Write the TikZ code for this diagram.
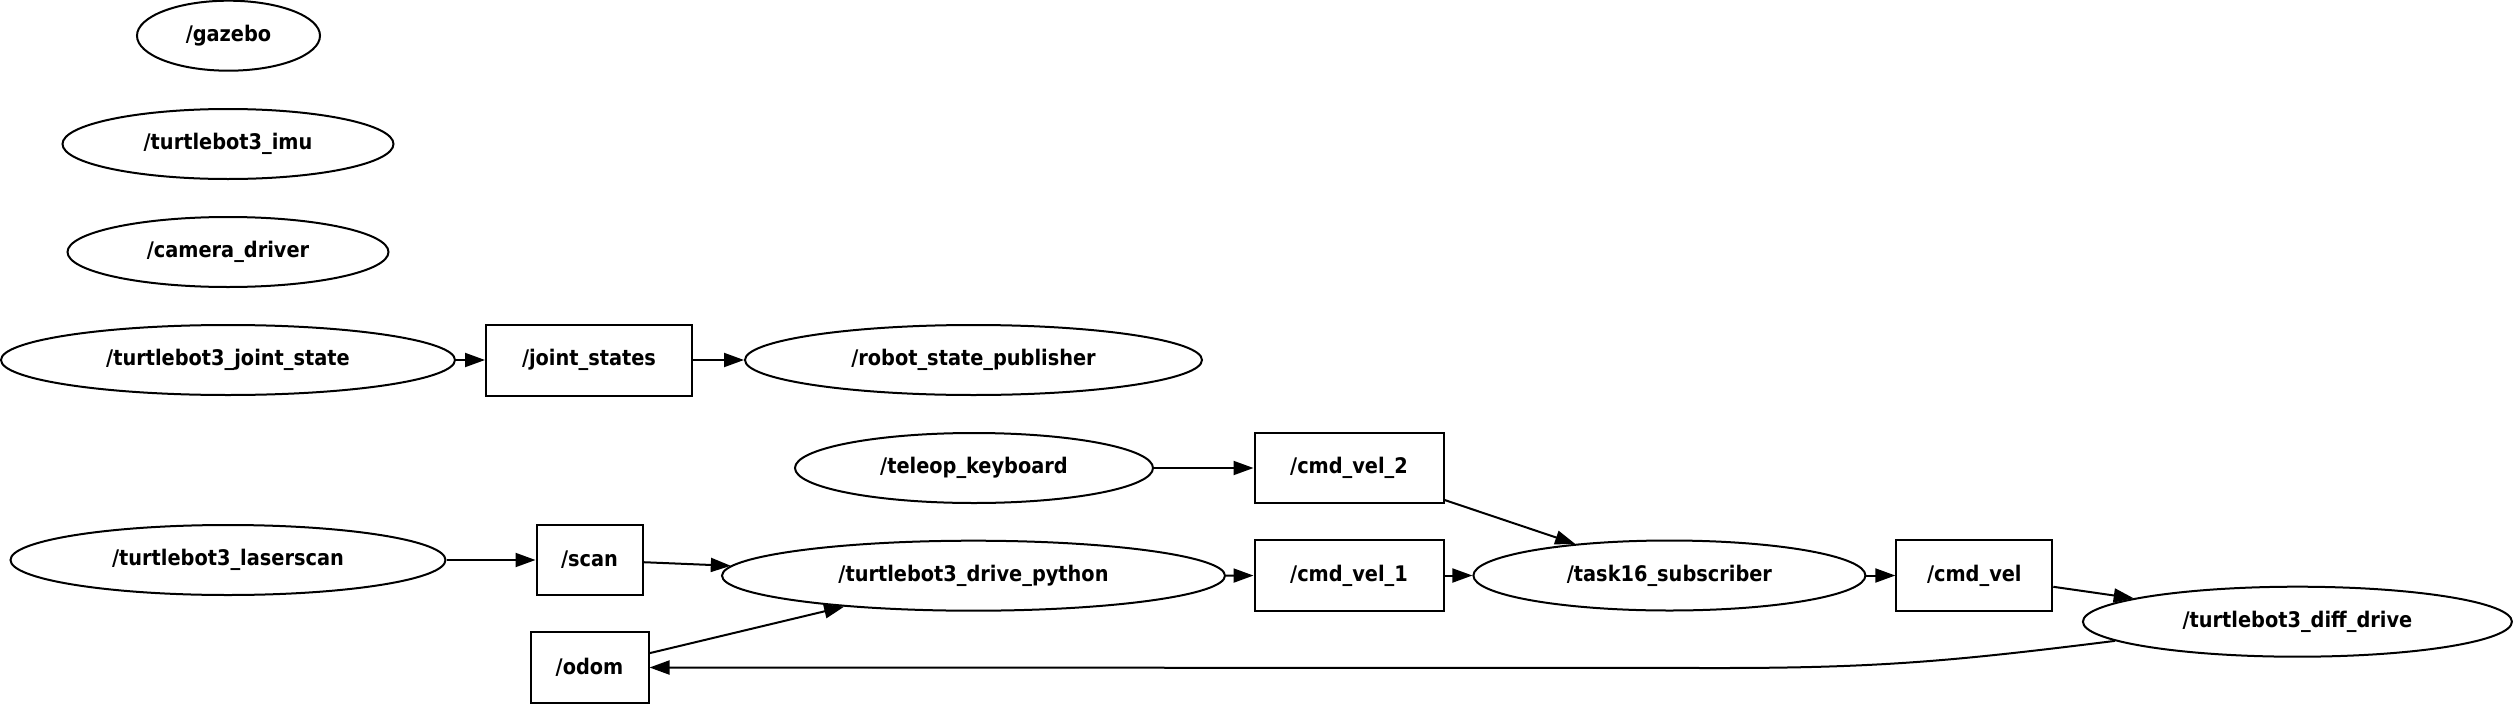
\documentclass[tikz,border=0pt]{standalone}
\usepackage{fontspec}
\IfFontExistsTF{DejaVu Sans Condensed}{\setmainfont{DejaVu Sans Condensed}}{\setmainfont{DejaVu Sans}[FakeStretch=0.88]}
\usetikzlibrary{shapes.geometric,arrows.meta}
\begin{document}
\begin{tikzpicture}[x=1pt,y=-1pt,
  every node/.style={font=\fontsize{21.5}{25}\selectfont\bfseries, inner sep=0pt},
  nodeell/.style={draw, ellipse, line width=2pt, minimum height=70pt},
  topicbox/.style={draw, rectangle, line width=2pt, minimum height=71pt},
  conn/.style={line width=2pt, -{Triangle[length=20pt,width=14pt]}}
]
\useasboundingbox (0,0) rectangle (2515,704);
% nodes (ellipses)
\node[nodeell, minimum width=183pt] (gazebo) at (228.5,35.7) {/gazebo};
\node[nodeell, minimum width=331pt] (imu) at (228,144) {/turtlebot3\_imu};
\node[nodeell, minimum width=321pt] (camera) at (228,252) {/camera\_driver};
\node[nodeell, minimum width=454pt] (jointstate) at (228,360) {/turtlebot3\_joint\_state};
\node[nodeell, minimum width=457pt] (rsp) at (973.5,360) {/robot\_state\_publisher};
\node[nodeell, minimum width=358pt] (teleop) at (974,468) {/teleop\_keyboard};
\node[nodeell, minimum width=435pt] (laser) at (228,560) {/turtlebot3\_laserscan};
\node[nodeell, minimum width=503pt] (drive) at (973.5,575.7) {/turtlebot3\_drive\_python};
\node[nodeell, minimum width=392pt] (task) at (1669.4,575.5) {/task16\_subscriber};
\node[nodeell, minimum width=429pt] (diff) at (2297.4,621.7) {/turtlebot3\_diff\_drive};
% topics (boxes)
\node[topicbox, minimum width=206pt] (jointstates) at (589,360) {/joint\_states};
\node[topicbox, minimum width=189pt, minimum height=70pt] (cmdvel2) at (1349,468) {/cmd\_vel\_2};
\node[topicbox, minimum width=106pt, minimum height=70pt] (scan) at (589.5,560) {/scan};
\node[topicbox, minimum width=118pt] (odom) at (589.5,667.5) {/odom};
\node[topicbox, minimum width=189pt] (cmdvel1) at (1349,575.5) {/cmd\_vel\_1};
\node[topicbox, minimum width=156pt] (cmdvel) at (1974.3,575.5) {/cmd\_vel};
\coordinate (bend) at (1720,668);
% connectors
\draw[conn] (jointstate) -- (jointstates);
\draw[conn] (jointstates) -- (rsp);
\draw[conn] (teleop) -- (cmdvel2);
\draw[conn] (cmdvel2) -- (task);
\draw[conn] (laser) -- (scan);
\draw[conn] (scan) -- (drive);
\draw[conn] (odom) -- (drive);
\draw[conn] (drive) -- (cmdvel1);
\draw[conn] (cmdvel1) -- (task);
\draw[conn] (task) -- (cmdvel);
\draw[conn] (cmdvel) -- (diff);
\draw[conn] (diff.186.5) .. controls +(-160,20) and +(160,0) .. (bend) -- (odom.east);
\end{tikzpicture}
\end{document}
